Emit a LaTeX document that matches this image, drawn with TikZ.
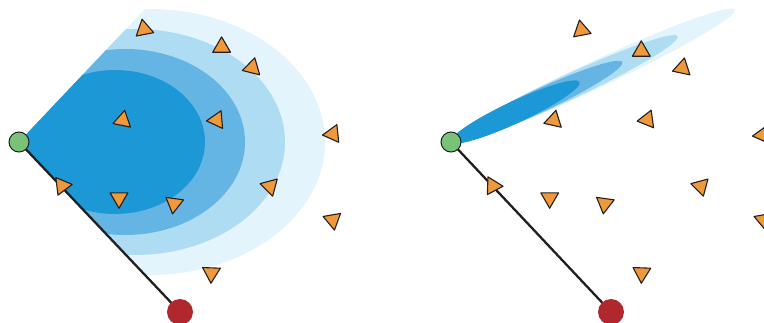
\documentclass[tikz,border=0pt]{standalone}
\usetikzlibrary{shapes.geometric,backgrounds}
\definecolor{cdark}{HTML}{1D98D6}
\definecolor{cmed}{HTML}{64B5E3}
\definecolor{clight}{HTML}{AEDCF3}
\definecolor{clightest}{HTML}{E3F4FC}
\definecolor{corange}{HTML}{F0993B}
\definecolor{cgreen}{HTML}{79C378}
\definecolor{cred}{HTML}{B0282E}
\definecolor{cline}{HTML}{231F20}
\begin{document}
\begin{tikzpicture}[x=1pt,y=-1pt,
  tri/.style={regular polygon, regular polygon sides=3, minimum size=20.5pt, inner sep=0pt, outer sep=0pt, fill=corange, draw=cline, line width=1.1pt, line join=round},
  startpt/.style={circle, minimum size=20pt, inner sep=0pt, fill=cgreen, draw=cline, line width=1pt},
  endpt/.style={circle, minimum size=26pt, inner sep=0pt, fill=cred},
  link/.style={draw=cline, line width=2.3pt}]
\useasboundingbox (0,0) rectangle (764,323);

% ---------- left panel ----------
\node[startpt] (g1) at (19,142) {};
\node[endpt] (r1) at (180,312) {};
\begin{scope}[on background layer]
  \begin{scope}
    \clip (19,142) -- (341,-198) -- (900,-198) -- (900,482) -- (341,482) -- cycle;
    \fill[clightest] (150,142) ellipse [x radius=175, y radius=133];
    \fill[clight] (135,142) ellipse [x radius=150, y radius=113];
    \fill[cmed] (125,142) ellipse [x radius=120, y radius=93];
    \fill[cdark] (115,142) ellipse [x radius=90, y radius=72];
  \end{scope}
  \draw[link] (g1.center) -- (r1.center);
\end{scope}
\node[tri, rotate=11] (tL1) at (144,29.3) {};
\node[tri, rotate=0] (tL2) at (221.6,47.1) {};
\node[tri, rotate=-14] (tL3) at (252.3,67.7) {};
\node[tri, rotate=-11.5] (tL4) at (122.7,120.3) {};
\node[tri, rotate=-25] (tL5) at (216.7,120) {};
\node[tri, rotate=-24] (tL6) at (332.7,134) {};
\node[tri, rotate=37] (tL7) at (62,185.7) {};
\node[tri, rotate=60] (tL8) at (119,198) {};
\node[tri, rotate=52] (tL9) at (174,203.7) {};
\node[tri, rotate=75] (tL10) at (270,186.3) {};
\node[tri, rotate=70] (tL11) at (332.7,220) {};
\node[tri, rotate=58] (tL12) at (211.3,273) {};

% ---------- right panel ----------
\node[startpt] (g2) at (451,142) {};
\node[endpt] (r2) at (611,312) {};
\begin{scope}[on background layer]
  \fill[clightest, rotate around={25:(592.8,75.9)}] (592.8,75.9) ellipse [x radius=156.5, y radius=13.5];
  \fill[clight, rotate around={25:(564.3,89.2)}] (564.3,89.2) ellipse [x radius=125, y radius=12.5];
  \fill[cmed, rotate around={25:(536.6,102.1)}] (536.6,102.1) ellipse [x radius=94.5, y radius=11.5];
  \fill[cdark, rotate around={25:(515.3,112)}] (515.3,112) ellipse [x radius=71, y radius=11];
  \draw[link] (g2.center) -- (r2.center);
\end{scope}
\node[tri, rotate=11] (tR1) at (581.4,30.1) {};
\node[tri, rotate=0] (tR2) at (641.3,51.1) {};
\node[tri, rotate=-12] (tR3) at (682.3,68) {};
\node[tri, rotate=-12.6] (tR4) at (553.7,120.3) {};
\node[tri, rotate=-22] (tR5) at (647.3,119.7) {};
\node[tri, rotate=-24] (tR6) at (762.7,135) {};
\node[tri, rotate=28] (tR7) at (492.8,185.9) {};
\node[tri, rotate=60] (tR8) at (549.7,198) {};
\node[tri, rotate=52] (tR9) at (604.7,203.7) {};
\node[tri, rotate=75] (tR10) at (700.7,186.3) {};
\node[tri, rotate=70] (tR11) at (763.7,220) {};
\node[tri, rotate=58] (tR12) at (641.7,273) {};
\end{tikzpicture}
\end{document}
